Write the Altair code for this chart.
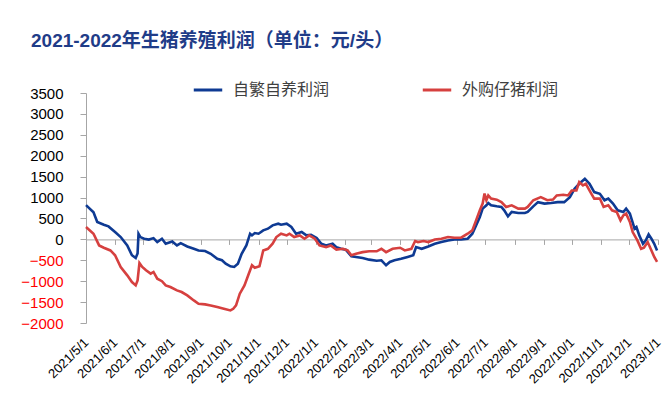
import altair as alt
import pandas as pd

title_text = "2021-2022年生猪养殖利润（单位：元/头）"
series_names = ["自繁自养利润", "外购仔猪利润"]
series_colors = ["#0E3A93", "#D6403F"]

blue_dates = ["2021/5/1","2021/5/9","2021/5/13","2021/5/20","2021/5/25","2021/6/1","2021/6/7","2021/6/14","2021/6/19","2021/6/23","2021/6/25","2021/6/26","2021/6/28","2021/7/2","2021/7/7","2021/7/12","2021/7/16","2021/7/21","2021/7/25","2021/8/1","2021/8/6","2021/8/10","2021/8/17","2021/8/24","2021/8/29","2021/9/5","2021/9/11","2021/9/18","2021/9/23","2021/9/27","2021/10/2","2021/10/6","2021/10/10","2021/10/14","2021/10/19","2021/10/23","2021/10/25","2021/10/28","2021/11/1","2021/11/6","2021/11/11","2021/11/16","2021/11/22","2021/11/25","2021/12/1","2021/12/6","2021/12/11","2021/12/17","2021/12/22","2021/12/27","2022/1/2","2022/1/7","2022/1/12","2022/1/19","2022/1/23","2022/1/28","2022/2/2","2022/2/8","2022/2/13","2022/2/20","2022/2/27","2022/3/7","2022/3/12","2022/3/17","2022/3/21","2022/3/26","2022/4/2","2022/4/9","2022/4/15","2022/4/18","2022/4/24","2022/5/1","2022/5/8","2022/5/15","2022/5/22","2022/5/29","2022/6/5","2022/6/12","2022/6/17","2022/6/21","2022/6/25","2022/6/28","2022/7/2","2022/7/4","2022/7/7","2022/7/13","2022/7/18","2022/7/21","2022/7/25","2022/7/29","2022/8/5","2022/8/12","2022/8/15","2022/8/21","2022/8/26","2022/9/2","2022/9/9","2022/9/16","2022/9/23","2022/9/29","2022/10/4","2022/10/9","2022/10/15","2022/10/20","2022/10/25","2022/10/31","2022/11/5","2022/11/9","2022/11/14","2022/11/19","2022/11/25","2022/11/28","2022/12/2","2022/12/7","2022/12/9","2022/12/12","2022/12/16","2022/12/19","2022/12/22","2022/12/25","2022/12/28","2022/12/31"]
blue_vals = [820,650,415,350,310,175,55,-145,-380,-445,-335,135,55,15,-5,30,-65,15,-105,-50,-145,-90,-170,-225,-265,-280,-345,-465,-500,-580,-645,-660,-580,-345,-145,135,95,150,135,215,255,335,375,350,375,295,135,175,95,110,30,-105,-145,-105,-185,-225,-245,-405,-420,-445,-485,-510,-500,-620,-540,-500,-465,-420,-380,-185,-225,-170,-105,-65,-25,-5,-5,15,135,335,535,735,815,870,815,790,775,695,550,655,630,630,655,790,890,855,870,890,890,1010,1210,1330,1450,1330,1130,1090,935,975,855,695,655,735,615,255,295,95,-105,-25,120,15,-105,-265]

red_dates = ["2021/5/1","2021/5/9","2021/5/15","2021/5/20","2021/5/27","2021/6/1","2021/6/7","2021/6/14","2021/6/19","2021/6/23","2021/6/25","2021/6/27","2021/6/30","2021/7/4","2021/7/9","2021/7/12","2021/7/16","2021/7/21","2021/7/25","2021/7/30","2021/8/6","2021/8/11","2021/8/17","2021/8/24","2021/8/29","2021/9/5","2021/9/11","2021/9/18","2021/9/25","2021/10/2","2021/10/5","2021/10/8","2021/10/12","2021/10/17","2021/10/21","2021/10/25","2021/10/28","2021/11/2","2021/11/6","2021/11/11","2021/11/16","2021/11/20","2021/11/25","2021/12/1","2021/12/4","2021/12/9","2021/12/15","2021/12/20","2021/12/25","2021/12/31","2022/1/5","2022/1/12","2022/1/17","2022/1/23","2022/1/30","2022/2/4","2022/2/8","2022/2/13","2022/2/20","2022/2/27","2022/3/7","2022/3/12","2022/3/17","2022/3/24","2022/4/1","2022/4/6","2022/4/13","2022/4/17","2022/4/20","2022/4/26","2022/5/1","2022/5/8","2022/5/15","2022/5/22","2022/5/29","2022/6/5","2022/6/12","2022/6/17","2022/6/21","2022/6/25","2022/6/28","2022/6/30","2022/7/2","2022/7/4","2022/7/7","2022/7/13","2022/7/18","2022/7/23","2022/7/29","2022/8/5","2022/8/12","2022/8/15","2022/8/21","2022/8/29","2022/9/5","2022/9/11","2022/9/15","2022/9/22","2022/9/27","2022/10/1","2022/10/6","2022/10/9","2022/10/13","2022/10/16","2022/10/22","2022/10/25","2022/10/31","2022/11/4","2022/11/9","2022/11/13","2022/11/18","2022/11/22","2022/11/25","2022/11/28","2022/12/2","2022/12/5","2022/12/10","2022/12/14","2022/12/17","2022/12/21","2022/12/25","2022/12/28","2022/12/31"]
red_vals = [295,135,-145,-200,-265,-380,-660,-860,-1020,-1100,-980,-565,-660,-740,-820,-780,-940,-1000,-1100,-1140,-1220,-1260,-1340,-1460,-1540,-1555,-1580,-1620,-1660,-1700,-1660,-1580,-1300,-1100,-860,-620,-680,-645,-265,-225,-105,55,135,95,135,55,95,15,95,15,-145,-185,-145,-245,-225,-265,-380,-345,-305,-285,-285,-225,-305,-225,-200,-265,-225,-40,-65,-40,-65,-5,15,55,40,40,135,215,455,695,855,1095,935,1050,975,950,890,775,815,735,735,775,935,1010,935,950,1050,1065,1050,1170,1170,1370,1290,1330,1090,975,975,775,815,695,655,455,575,615,415,175,-25,-225,-200,-65,-265,-420,-540]

y_ticks = list(range(-2000, 3501, 500))

df = pd.concat([
    pd.DataFrame({"date": blue_dates, "value": blue_vals, "series": series_names[0]}),
    pd.DataFrame({"date": red_dates, "value": red_vals, "series": series_names[1]}),
], ignore_index=True)

x_scale = alt.Scale(domain=[alt.DateTime(year=2021, month=5, date=1),
                            alt.DateTime(year=2023, month=1, date=1)], nice=False)
y_scale = alt.Scale(domain=[-2000, 3500], nice=False, zero=False)

y_axis = alt.Axis(values=y_ticks, format="d", grid=False, title=None, domainColor="#a6a6a6",
                  tickColor="#a6a6a6", tickSize=6, labelPadding=17,
                  labelFont="Liberation Sans", labelFontSize=15,
                  labelColor={"expr": "datum.value < 0 ? '#FF0000' : '#000000'"})

label_axis = alt.Axis(format="%Y/%-m/%-d", tickCount={"interval": "month", "step": 1},
                      orient="bottom", labelAngle=-45, labelAlign="right",
                      labelBaseline="middle",
                      domain=False, ticks=False, grid=False, title=None,
                      labelFont="Liberation Sans", labelFontSize=13, labelColor="#000000",
                      labelOverlap=False, labelFlush=False, labelBound=False, labelPadding=17)

zero_axis = alt.Axis(tickCount={"interval": "month", "step": 1}, labels=False, grid=False,
                     title=None, domainColor="#a6a6a6", tickColor="#a6a6a6", tickSize=5,
                     orient="bottom", offset=-83.6)

lines = alt.Chart(df).mark_line(strokeWidth=2.6).encode(
    x=alt.X("date:T", scale=x_scale, axis=label_axis),
    y=alt.Y("value:Q", scale=y_scale, axis=y_axis),
    color=alt.Color("series:N", scale=alt.Scale(domain=series_names, range=series_colors),
                    legend=alt.Legend(orient="none", legendX=106, legendY=-19,
                                      direction="horizontal", title=None,
                                      symbolType="stroke", symbolSize=810,
                                      symbolStrokeWidth=3, labelFontSize=16,
                                      labelFont="Noto Sans CJK SC", labelColor="#404040",
                                      labelOffset=9, columnPadding=86, padding=0)),
    order=alt.Order("date:T"),
)

zero = alt.Chart(df).mark_line(opacity=0).encode(
    x=alt.X("date:T", scale=x_scale, axis=zero_axis),
    y=alt.Y("value:Q", scale=y_scale, axis=y_axis),
    detail="series:N",
)

chart = alt.layer(zero, lines).resolve_axis(x="independent").properties(
    width=572, height=230,
    autosize=alt.AutoSizeParams(type="none"),
    padding={"left": 78, "top": 85, "right": 6, "bottom": 67},
    title=alt.Title(title_text, anchor="start", frame="group", dx=-55, offset=23,
                    font="Liberation Sans, Noto Sans CJK SC", fontSize=19,
                    fontWeight="bold", color="#1F3C88"),
).configure_view(stroke=None)

chart.save("out.html", embed_options={"renderer": "svg", "actions": False})
